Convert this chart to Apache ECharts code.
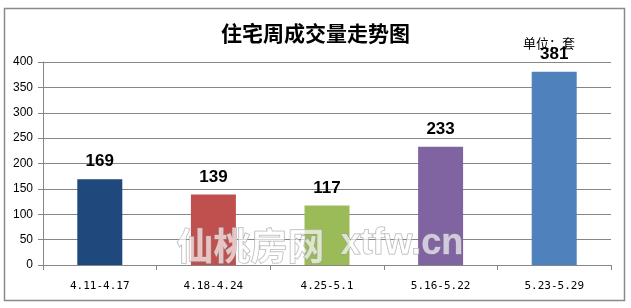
<!DOCTYPE html>
<html><head><meta charset="utf-8">
<script src="https://cdn.jsdelivr.net/npm/echarts@6/dist/echarts.min.js"></script>
<style>html,body{margin:0;padding:0;background:#fff;}#c{width:631px;height:308px;}</style>
</head><body><div id="c"></div>
<script>
const categories = ['4.11-4.17', '4.18-4.24', '4.25-5.1', '5.16-5.22', '5.23-5.29'];
const values = [169, 139, 117, 233, 381];
const barColors = ['#1F497D', '#C0504D', '#9BBB59', '#8064A2', '#4F81BD'];
const yTicks = [0, 50, 100, 150, 200, 250, 300, 350, 400];
const titleText = '住宅周成交量走势图';
const unitText = '单位：套';

const chart = echarts.init(document.getElementById('c'), null, {renderer: 'canvas'});
chart.setOption({
  animation: false,
  backgroundColor: '#fff',
  title: {
    text: titleText, left: 'center', top: 18,
    textStyle: {fontFamily: 'Noto Sans CJK SC', fontSize: 21, fontWeight: 'bold', color: '#000'}
  },
  grid: {left: 43, right: 20, top: 62, bottom: 43, containLabel: false},
  xAxis: {
    type: 'category', data: categories,
    axisLine: {lineStyle: {color: '#868686', width: 1}},
    axisTick: {show: true, length: 5, alignWithLabel: false, lineStyle: {color: '#868686'}},
    axisLabel: {margin: 16, color: '#000', fontSize: 11, fontFamily: 'DejaVu Sans Mono', interval: 0}
  },
  yAxis: {
    type: 'value', min: yTicks[0], max: yTicks[yTicks.length - 1], interval: 50,
    axisLine: {show: true, lineStyle: {color: '#868686', width: 1}},
    axisTick: {show: true, length: 5, lineStyle: {color: '#868686'}},
    axisLabel: {margin: 10, color: '#000', fontSize: 12, fontFamily: 'Liberation Sans'},
    splitLine: {lineStyle: {color: '#868686', width: 1}}
  },
  series: [{
    type: 'bar', barWidth: 45,
    data: values.map((v, i) => ({value: v, itemStyle: {color: barColors[i]}})),
    label: {
      show: true, position: 'top', distance: 9,
      fontFamily: 'Liberation Sans', fontWeight: 'bold', fontSize: 17, color: '#000'
    }
  }],
  graphic: [
    {type: 'rect', shape: {x: 4.5, y: 8.5, width: 620, height: 292}, style: {fill: 'none', stroke: '#8a8a8a', lineWidth: 1.5}, silent: true, z: 10},
    {type: 'text', left: 523, top: 37, style: {text: unitText, fontFamily: 'Noto Sans CJK SC', fontSize: 13, fill: '#000'}, z: 5},
    {type: 'text', left: 176, top: 227, style: {text: '仙桃房网', fontFamily: 'Noto Sans CJK SC', fontWeight: 'bold', fontSize: 37, fill: 'rgba(255,255,255,0.65)', stroke: 'rgba(150,150,150,0.8)', lineWidth: 1}, z: 20},
    {type: 'text', left: 340, top: 226, style: {text: 'xtfw.cn', fontFamily: 'Liberation Sans', fontWeight: 'bold', fontSize: 36, fill: 'rgba(255,255,255,0.65)', stroke: 'rgba(150,150,150,0.8)', lineWidth: 1}, z: 20}
  ]
});
</script></body></html>
